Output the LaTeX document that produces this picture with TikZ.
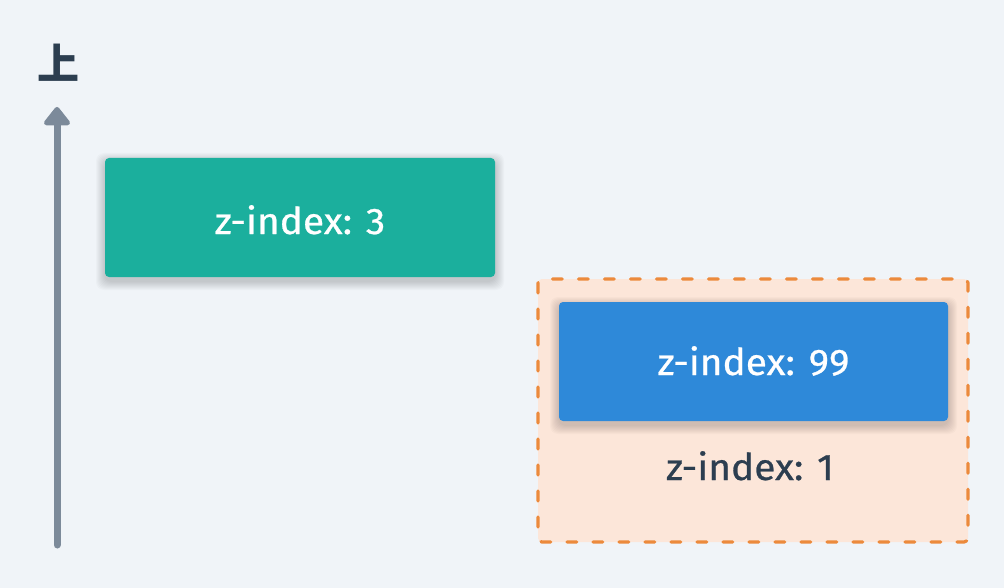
\documentclass[tikz,border=0pt]{standalone}
\usepackage{fontspec}
\setmainfont{Fira Sans}[FakeBold=0.7, FakeStretch=1.05]
\newfontfamily\cjk{Noto Sans CJK SC}
\usetikzlibrary{arrows.meta}
\definecolor{bgc}{HTML}{F0F4F8}
\definecolor{greenc}{HTML}{1BAF9D}
\definecolor{bluec}{HTML}{2E89D9}
\definecolor{orangec}{HTML}{EC8A3C}
\definecolor{orangefill}{HTML}{FCE6D9}
\definecolor{arrowc}{HTML}{7C8A9A}
\definecolor{darkc}{HTML}{2C3E50}
\tikzset{
  boxlabel/.style={font=\fontsize{37}{40}\selectfont, text=white, anchor=base},
  darklabel/.style={font=\fontsize{37}{40}\selectfont, text=darkc, anchor=base},
  shadowlayer/.style={fill=black, opacity=0.018, rounded corners=8pt},
}
\newcommand{\softshadow}[4]{%
  \foreach \s in {1,2,...,9} {
    \fill[shadowlayer] (#1-\s*1.0,#2-\s*1.0+4) rectangle (#3+\s*1.0,#4+\s*1.0+4);
  }%
}
\begin{document}
\begin{tikzpicture}[x=1pt,y=-1pt]
\fill[bgc] (0,0) rectangle (1004,588);
\useasboundingbox (0,0) rectangle (1004,588);
% up arrow
\coordinate (abot) at (57,545);
\coordinate (atop) at (57,107);
\draw[arrowc, line width=7pt, line cap=round, -{Triangle[width=30pt,length=20pt,round]}] (abot) -- (atop);
\node[font=\cjk\bfseries\fontsize{42}{44}\selectfont, text=darkc] (up) at (58,63) {上};
% green box
\softshadow{105}{158}{495}{277}
\fill[greenc, rounded corners=4pt] (105,158) rectangle (495,277);
\node[boxlabel] (g) at (300,234) {z-index: 3};
% orange container
\fill[orangefill, rounded corners=4pt] (538,279) rectangle (968,542);
\draw[orangec, line width=3.2pt, dash pattern=on 10pt off 16pt, line cap=round, rounded corners=4pt] (538,279) rectangle (968,542);
% blue box
\softshadow{559}{302}{948}{421}
\fill[bluec, rounded corners=4pt] (559,302) rectangle (948,421);
\node[boxlabel] (b) at (753.5,375) {z-index: 99};
\node[darklabel] (o) at (750,480) {z-index: 1};
\end{tikzpicture}
\end{document}
